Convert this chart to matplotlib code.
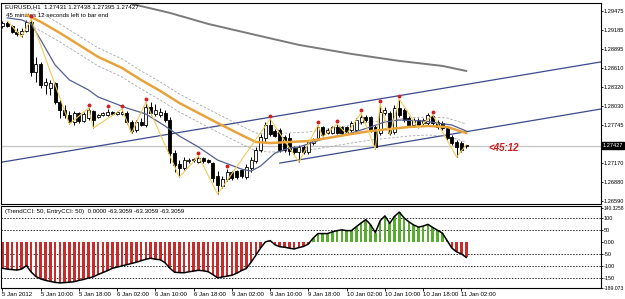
import numpy as np
import matplotlib
matplotlib.use("Agg")
import matplotlib.pyplot as plt
import matplotlib.transforms as mtransforms

plt.rcParams['font.family'] = ['Liberation Sans', 'DejaVu Sans']
NARROW = ['Liberation Sans Narrow', 'Liberation Sans', 'DejaVu Sans']

# EURUSD H1 candles, 5 Jan 02:00 .. 11 Jan 03:00
opens = [1.29245, 1.29290, 1.29245, 1.29154, 1.29123, 1.29169, 1.29306, 1.28546, 1.28667, 1.28348,
         1.28302, 1.28378, 1.28090, 1.27968, 1.27892, 1.27786, 1.27922, 1.27801, 1.27846, 1.27953,
         1.27862, 1.27892, 1.27892, 1.27938, 1.27907, 1.27907, 1.27922, 1.27786, 1.27664, 1.27786,
         1.27740, 1.28014, 1.27907, 1.27892, 1.27922, 1.27816, 1.27314, 1.27147, 1.27086, 1.27193,
         1.27208, 1.27178, 1.27238, 1.27208, 1.27162, 1.26965, 1.26813, 1.26919, 1.27026, 1.27041,
         1.27056, 1.26950, 1.27086, 1.27193, 1.27360, 1.27542, 1.27740, 1.27649, 1.27664, 1.27558,
         1.27542, 1.27390, 1.27330, 1.27406, 1.27330, 1.27466, 1.27542, 1.27710, 1.27618, 1.27618,
         1.27710, 1.27710, 1.27710, 1.27664, 1.27664, 1.27786, 1.27862, 1.27862, 1.27710, 1.27618,
         1.27922, 1.27922, 1.27634, 1.27998, 1.27968, 1.27846, 1.27740, 1.27816, 1.27770, 1.27770,
         1.27877, 1.27786, 1.27770, 1.27694, 1.27558, 1.27482, 1.27466, 1.27431]
highs = [1.29321, 1.29321, 1.29260, 1.29214, 1.29214, 1.29336, 1.29351, 1.28774, 1.28698, 1.28454,
         1.28424, 1.28394, 1.28135, 1.28044, 1.27953, 1.27953, 1.27938, 1.27938, 1.27998, 1.27968,
         1.27907, 1.27938, 1.27983, 1.27953, 1.27953, 1.27983, 1.27953, 1.27816, 1.27816, 1.27846,
         1.28090, 1.28090, 1.28059, 1.27998, 1.27968, 1.27862, 1.27360, 1.27208, 1.27254, 1.27238,
         1.27238, 1.27269, 1.27254, 1.27223, 1.27178, 1.27041, 1.26965, 1.27071, 1.27041, 1.27056,
         1.27071, 1.27147, 1.27254, 1.27406, 1.27603, 1.27786, 1.27831, 1.27679, 1.27694, 1.27588,
         1.27618, 1.27421, 1.27436, 1.27436, 1.27512, 1.27542, 1.27740, 1.27725, 1.27694, 1.27725,
         1.27755, 1.27725, 1.27725, 1.27801, 1.27846, 1.27922, 1.27892, 1.27877, 1.27740, 1.28059,
         1.28014, 1.27953, 1.28044, 1.28135, 1.27998, 1.27877, 1.27846, 1.27846, 1.27846, 1.27922,
         1.27892, 1.27816, 1.27801, 1.27725, 1.27588, 1.27512, 1.27497, 1.27438]
lows = [1.29214, 1.29230, 1.29138, 1.29093, 1.29078, 1.29154, 1.28485, 1.28394, 1.28302, 1.28211,
        1.28196, 1.28059, 1.27846, 1.27846, 1.27755, 1.27740, 1.27770, 1.27786, 1.27816, 1.27694,
        1.27846, 1.27877, 1.27877, 1.27892, 1.27892, 1.27892, 1.27755, 1.27618, 1.27634, 1.27725,
        1.27710, 1.27892, 1.27877, 1.27862, 1.27786, 1.27162, 1.27026, 1.26950, 1.27056, 1.27162,
        1.27178, 1.27162, 1.27162, 1.27162, 1.26874, 1.26691, 1.26782, 1.26889, 1.26904, 1.26919,
        1.26934, 1.26919, 1.27026, 1.27162, 1.27330, 1.27482, 1.27573, 1.27558, 1.27330, 1.27330,
        1.27284, 1.27299, 1.27178, 1.27299, 1.27299, 1.27436, 1.27512, 1.27558, 1.27603, 1.27603,
        1.27603, 1.27603, 1.27603, 1.27634, 1.27634, 1.27755, 1.27786, 1.27634, 1.27375, 1.27588,
        1.27892, 1.27588, 1.27603, 1.27862, 1.27786, 1.27710, 1.27710, 1.27694, 1.27740, 1.27740,
        1.27740, 1.27679, 1.27664, 1.27512, 1.27436, 1.27254, 1.27330, 1.27395]
closes = [1.29290, 1.29245, 1.29154, 1.29123, 1.29169, 1.29306, 1.28546, 1.28667, 1.28348, 1.28394,
          1.28378, 1.28090, 1.27968, 1.27892, 1.27786, 1.27922, 1.27801, 1.27907, 1.27968, 1.27816,
          1.27892, 1.27922, 1.27938, 1.27907, 1.27938, 1.27938, 1.27786, 1.27649, 1.27786, 1.27740,
          1.28014, 1.27922, 1.27968, 1.27938, 1.27816, 1.27314, 1.27132, 1.27086, 1.27208, 1.27208,
          1.27223, 1.27238, 1.27193, 1.27178, 1.26934, 1.26828, 1.26919, 1.27026, 1.26934, 1.26950,
          1.26965, 1.27102, 1.27208, 1.27360, 1.27558, 1.27740, 1.27603, 1.27573, 1.27360, 1.27360,
          1.27345, 1.27330, 1.27406, 1.27330, 1.27482, 1.27512, 1.27710, 1.27588, 1.27664, 1.27710,
          1.27618, 1.27618, 1.27618, 1.27770, 1.27816, 1.27862, 1.27816, 1.27664, 1.27406, 1.27938,
          1.27968, 1.27618, 1.27998, 1.27892, 1.27816, 1.27740, 1.27816, 1.27740, 1.27816, 1.27892,
          1.27770, 1.27710, 1.27694, 1.27542, 1.27466, 1.27406, 1.27360, 1.27427]

# TrendCCI(50) value per bar
cci = [-108.6, -111.9, -113.9, -116.0, -111.9, -97.5, -124.2, -142.6, -152.9, -159.0,
       -163.1, -167.2, -169.3, -168.0, -166.4, -164.3, -159.0, -154.9, -148.8, -143.9,
       -134.4, -126.2, -118.0, -108.6, -103.7, -98.4, -93.4, -88.5, -83.2, -77.0,
       -70.9, -66.8, -70.9, -73.0, -85.2, -107.8, -125.0, -126.6, -127.0, -123.0,
       -120.1, -116.8, -118.9, -122.5, -134.4, -148.4, -144.7, -141.0, -137.3, -129.1,
       -118.0, -109.4, -83.2, -54.5, -23.8, 1.2, 6.6, -10.7, -18.9, -20.9,
       -25.0, -28.3, -22.5, -17.6, -7.4, 17.2, 35.7, 35.7, 35.7, 43.0,
       48.0, 51.2, 48.0, 48.0, 64.3, 79.5, 93.9, 72.5, 39.8, 88.9,
       109.4, 78.3, 107.4, 125.0, 101.2, 84.8, 71.7, 62.7, 66.8, 74.2,
       61.1, 49.6, 38.1, 7.0, -24.6, -40.2, -48.8, -63.3059]

# moving averages (bar index, price)
ema_bars = [5, 8, 12, 16, 20, 25, 29, 33, 37, 41, 45, 50, 53, 56, 60, 64, 68, 73, 77, 81, 85, 89, 93, 95, 97]
ema_vals = [1.29412, 1.29306, 1.29138, 1.28956, 1.28774, 1.28606, 1.28424, 1.28257, 1.28074, 1.27922,
            1.27770, 1.27588, 1.27482, 1.27466, 1.27482, 1.27497, 1.27542, 1.27603, 1.27649, 1.27679,
            1.27710, 1.27725, 1.27710, 1.27664, 1.27618]
env_up = [1.29549, 1.29443, 1.29275, 1.29093, 1.28911, 1.28743, 1.28561, 1.28394, 1.28211, 1.28059,
          1.27907, 1.27725, 1.27619, 1.27603, 1.27619, 1.27634, 1.27679, 1.27740, 1.27786, 1.27816,
          1.27847, 1.27862, 1.27847, 1.27801, 1.27755]
env_dn = [1.29275, 1.29169, 1.29001, 1.28819, 1.28637, 1.28469, 1.28287, 1.28120, 1.27937, 1.27785,
          1.27633, 1.27451, 1.27345, 1.27329, 1.27345, 1.27360, 1.27405, 1.27466, 1.27512, 1.27542,
          1.27573, 1.27588, 1.27573, 1.27527, 1.27481]
ma_bars = [1, 4, 6, 8, 11, 14, 18, 20, 26, 30, 34, 37, 41, 45, 50, 52, 54, 57, 60, 62, 67, 73, 77, 80, 83, 88, 94, 97]
ma_vals = [1.29366, 1.29336, 1.29275, 1.29032, 1.28652, 1.28424, 1.28272, 1.28166, 1.27998, 1.27907,
           1.27725, 1.27573, 1.27406, 1.27208, 1.27071, 1.27041, 1.27117, 1.27314, 1.27390, 1.27406,
           1.27527, 1.27618, 1.27710, 1.27786, 1.27816, 1.27801, 1.27740, 1.27649]
slow_bars = [25, 27, 35, 43, 52, 62, 73, 83, 92, 97]
slow_vals = [1.29655, 1.29579, 1.29442, 1.29275, 1.29123, 1.28956, 1.28819, 1.28713, 1.28637, 1.28561]

# zigzag swing points and fractal bars
zz_bars = [1, 4, 6, 14, 18, 19, 25, 27, 30, 37, 41, 45, 56, 62, 66, 67, 70, 72, 75, 78, 79, 81, 83, 87, 90, 95, 97]
zz_vals = [1.29321, 1.29078, 1.29351, 1.27755, 1.27998, 1.27694, 1.27983, 1.27618, 1.28090, 1.26950,
           1.27269, 1.26691, 1.27831, 1.27178, 1.27740, 1.27558, 1.27755, 1.27603, 1.27922, 1.27375,
           1.28059, 1.27588, 1.28135, 1.27694, 1.27892, 1.27254, 1.27438]
fractal_bars = [6, 18, 22, 25, 30, 41, 47, 56, 66, 70, 75, 79, 83, 90]

# trend lines (bar, price)
trend1 = [(0, 1.27178), (125.2, 1.28698)]
trend2 = [(58, 1.27162), (125.2, 1.27983)]

price_ticks = [1.29475, 1.29185, 1.28895, 1.28610, 1.28320, 1.28030, 1.27745, 1.27170, 1.26880, 1.26590]
last_price = 1.27427
cci_ticks = [140.3258, 100, 50, 0, -50, -100, -150, -189.073]
cci_labels = ["140.3258", "100", "50", "0.00", "-50", "-100", "-150", "-189.073"]
date_labels = ["5 Jan 2012", "5 Jan 10:00", "5 Jan 18:00", "6 Jan 02:00", "6 Jan 10:00", "6 Jan 18:00",
               "9 Jan 02:00", "9 Jan 10:00", "9 Jan 18:00", "10 Jan 02:00", "10 Jan 10:00",
               "10 Jan 18:00", "11 Jan 02:00"]

o, h, l, c = map(np.array, (opens, highs, lows, closes))
x = np.arange(len(c))

fig = plt.figure(figsize=(6.25, 2.99), dpi=100)
ax = fig.add_axes([1/625, 1 - 204/299, 600/625, 201/299])
ax2 = fig.add_axes([1/625, 1 - 288/299, 600/625, 82/299], sharex=ax)

# price panel
ax.axhline(last_price, color='#c8c8c8', lw=1.0, zorder=1)
ax.axline(trend1[0], trend1[1], color='#3c4a8c', lw=0.9, zorder=2)
ax.plot([trend2[0][0], trend2[1][0]], [trend2[0][1], trend2[1][1]], color='#3c4a8c', lw=0.9, zorder=2)

ax.plot(slow_bars, slow_vals, color='#7a7a7a', lw=1.4, zorder=2)
ax.plot(ema_bars, env_up, color='#a8a8a8', lw=0.6, ls=(0, (3, 2)), zorder=2)
ax.plot(ema_bars, env_dn, color='#a8a8a8', lw=0.6, ls=(0, (3, 2)), zorder=2)

ax.vlines(x, l, h, color='black', lw=0.7, zorder=3)
body_lo = np.minimum(o, c)
body_h = np.maximum(np.abs(c - o), 0.00003)
colors = ['white' if cc >= oo else 'black' for oo, cc in zip(o, c)]
ax.bar(x, body_h, bottom=body_lo, width=0.62, color=colors, edgecolor='black', lw=0.6, zorder=4)

ax.plot(ma_bars, ma_vals, color='#55608e', lw=0.9, zorder=5)
ax.plot(ema_bars, ema_vals, color='#e8a23c', lw=1.8, zorder=5)
ax.plot(zz_bars, zz_vals, color='#f0cc5a', lw=0.8, zorder=5)

up3 = mtransforms.offset_copy(ax.transData, fig=fig, y=3, units='dots')
ax.plot(fractal_bars, h[fractal_bars], 'o', ms=1.8, color='#d02020', transform=up3, zorder=6)

ax.set_xlim(-0.31, 125.2)
ax.set_ylim(1.26541, 1.29592)
ax.yaxis.tick_right()
ax.set_yticks(price_ticks)
ax.set_yticklabels([f"{p:.5f}" for p in price_ticks], family=NARROW)
ax.tick_params(axis='y', direction='out', length=1.5, width=0.6, pad=0.4, labelsize=4.1)
ax.tick_params(axis='x', bottom=False, labelbottom=False)
tr = mtransforms.blended_transform_factory(ax.transAxes, ax.transData)
ax.text(1.003, last_price, f"{last_price:.5f}", transform=tr, fontsize=4.1, color='white',
        family=NARROW, va='center', ha='left',
        bbox=dict(boxstyle='square,pad=0.12', fc='black', ec='black'))

ax.text(0.006, 0.983, "EURUSD,H1  1.27431 1.27438 1.27395 1.27427", transform=ax.transAxes,
        fontsize=4.4, va='center', ha='left')
ax.text(0.008, 0.94, "45 minutes 12 seconds left to bar end", transform=ax.transAxes,
        fontsize=4.4, va='center', ha='left')
ax.text(101.6, 1.27390, "<45:12", color='#cc2020', fontsize=7, fontweight='bold', style='italic',
        va='center', ha='left')

for s in ax.spines.values():
    s.set_linewidth(0.8)

# CCI panel
bar_cols = ['#c92a2a' if v < 0 else '#58ad30' for v in cci]
ax2.bar(x, cci, width=0.55, color=bar_cols, zorder=2)
ax2.plot(x, cci, color='black', lw=1.1, zorder=3)
for lvl in [100, 50, -50, -100, -150]:
    ax2.axhline(lvl, color='#333333', lw=0.7, ls=(0, (1.5, 1.5)), zorder=1)
ax2.set_ylim(-190.5, 150.4)
ax2.yaxis.tick_right()
ax2.set_yticks(cci_ticks)
ax2.set_yticklabels(cci_labels, family=NARROW)
ax2.tick_params(axis='y', direction='out', length=1.5, width=0.6, pad=0.4, labelsize=4.0)
ax2.get_yticklabels()[0].set_fontsize(3.5)
ax2.get_yticklabels()[-1].set_fontsize(3.7)
ax2.set_xticks(np.arange(0, len(date_labels) * 8, 8))
ax2.set_xticklabels(date_labels, ha='left', family=NARROW)
ax2.tick_params(axis='x', direction='out', length=2, width=0.6, pad=1, labelsize=4.4)
ax2.text(0.007, 0.93, "(TrendCCI: 50, EntryCCI: 50)  0.0000 -63.3059 -63.3059 -63.3059",
         transform=ax2.transAxes, fontsize=4.4, va='center', ha='left')
for s in ax2.spines.values():
    s.set_linewidth(0.8)

fig.savefig("out.png", dpi=100)
